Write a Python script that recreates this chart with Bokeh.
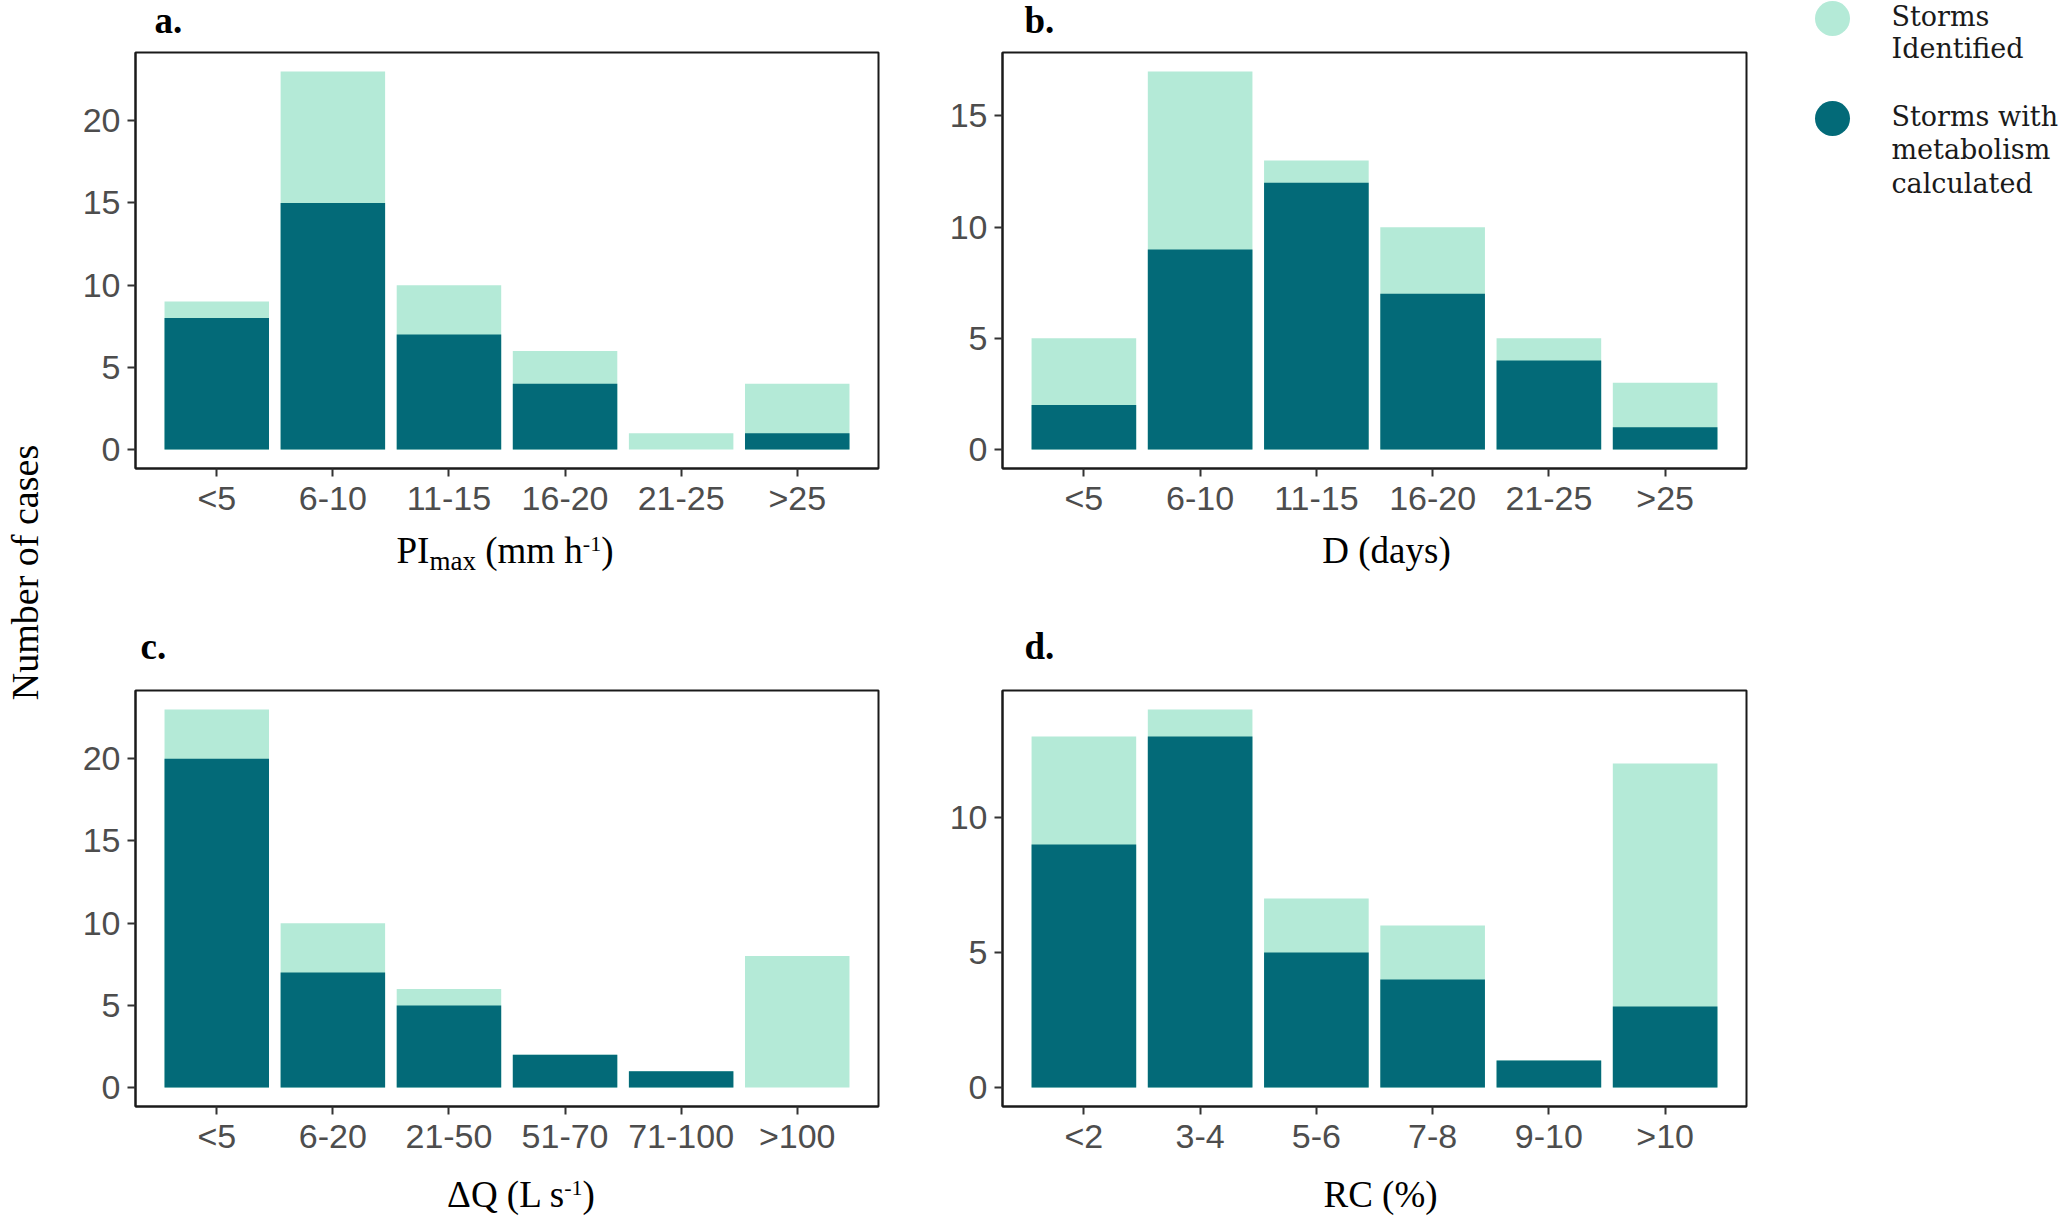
import math
from bokeh.plotting import figure
from bokeh.layouts import row, column
from bokeh.models import ColumnDataSource, FactorRange, Range1d, FixedTicker, Label
from bokeh.core.properties import value
from bokeh.embed import file_html
from bokeh.resources import INLINE

# ---------------- data ----------------
CATS_A = ["<5", "6-10", "11-15", "16-20", "21-25", ">25"]
IDENT_A = [9, 23, 10, 6, 1, 4]
METAB_A = [8, 15, 7, 4, 0, 1]

CATS_B = ["<5", "6-10", "11-15", "16-20", "21-25", ">25"]
IDENT_B = [5, 17, 13, 10, 5, 3]
METAB_B = [2, 9, 12, 7, 4, 1]

CATS_C = ["<5", "6-20", "21-50", "51-70", "71-100", ">100"]
IDENT_C = [23, 10, 6, 2, 1, 8]
METAB_C = [20, 7, 5, 2, 1, 0]

CATS_D = ["<2", "3-4", "5-6", "7-8", "9-10", ">10"]
IDENT_D = [13, 14, 7, 6, 1, 12]
METAB_D = [9, 13, 5, 4, 1, 3]

YTICKS_A = [0, 5, 10, 15, 20]
YTICKS_B = [0, 5, 10, 15]
YTICKS_C = [0, 5, 10, 15, 20]
YTICKS_D = [0, 5, 10]

PANEL_LABELS = ["a.", "b.", "c.", "d."]
# axis titles as (text, kind) pieces: n = normal, sub = subscript, sup = superscript
XTITLE_A = [("PI", "n"), ("max", "sub"), (" (mm h", "n"), ("-1", "sup"), (")", "n")]
XTITLE_B = [("D (days)", "n")]
XTITLE_C = [("\u0394Q (L s", "n"), ("-1", "sup"), (")", "n")]
XTITLE_D = [("RC (%)", "n")]
YTITLE = "Number of cases"
LEGEND_LABELS = [["Storms", "Identified"], ["Storms with", "metabolism", "calculated"]]

LIGHT = "#B4EAD7"
DARK = "#036A78"

# Times / Liberation Serif advance widths (em)
TW = {"P": .556, "I": .333, "m": .778, "a": .444, "x": .5, " ": .25, "(": .333, ")": .333,
      "h": .5, "-": .333, "1": .5, "\u0394": .612, "Q": .722, "L": .611, "s": .389,
      "D": .722, "d": .5, "y": .5, "R": .667, "C": .667, "%": .833}

TITLE_SIZE = 37
SIZES = {"n": TITLE_SIZE, "sub": 27, "sup": 22}
SHIFT = {"n": 0, "sub": -7, "sup": 12}
BASE_FIX = 0.36   # renderer places the alphabetic baseline ~0.36em low; compensate
LETTER_SIZE = 37


def text_w(s, size):
    return sum(TW.get(c, 0.5) for c in s) * size


def strip(width, height):
    f = figure(width=width, height=height, output_backend="svg", toolbar_location=None,
               x_axis_location=None, y_axis_location=None, min_border=0,
               x_range=Range1d(0, 1), y_range=Range1d(0, 1), outline_line_color=None,
               background_fill_color="white", border_fill_color="white")
    f.grid.visible = False
    return f


def add_letter(f, x, y, text):
    f.add_layout(Label(x=x, y=y + BASE_FIX * LETTER_SIZE, x_units="screen", y_units="screen",
                       text=text, text_font="Liberation Serif", text_font_style="bold",
                       text_font_size=f"{LETTER_SIZE}px", text_color="black",
                       text_baseline="alphabetic"))


def add_xtitle(f, cx, y, pieces):
    total = sum(text_w(t, SIZES[k]) for t, k in pieces)
    x0 = cx - total / 2
    for t, k in pieces:
        sz = SIZES[k]
        lead = len(t) - len(t.lstrip(" "))
        x0 += text_w(" " * lead, sz)
        t2 = t.lstrip(" ")
        f.add_layout(Label(x=x0, y=y + SHIFT[k] + BASE_FIX * sz, x_units="screen", y_units="screen",
                           text=t2, text_font="Liberation Serif", text_font_size=f"{sz}px",
                           text_color="black", text_baseline="alphabetic", text_align="left"))
        x0 += text_w(t2, sz)


def make_panel(cats, ident, metab, yticks, width, height, bl, br, bt, bb):
    ymax = max(ident)
    p = figure(width=width, height=height, output_backend="svg", toolbar_location=None,
               x_range=FactorRange(factors=cats, range_padding=0.2, range_padding_units="absolute"),
               y_range=Range1d(-0.05 * ymax, 1.05 * ymax),
               min_border_left=bl, min_border_right=br, min_border_top=bt, min_border_bottom=bb,
               background_fill_color="white", border_fill_color="white")
    src = ColumnDataSource(dict(cat=cats, ident=ident, metab=metab))
    p.vbar(x="cat", top="ident", width=0.9, source=src, fill_color=LIGHT, line_color=None)
    p.vbar(x="cat", top="metab", width=0.9, source=src, fill_color=DARK, line_color=None)

    p.xgrid.visible = False
    p.ygrid.visible = False
    p.outline_line_color = "#1a1a1a"
    p.outline_line_width = 2
    p.yaxis.ticker = FixedTicker(ticks=yticks)
    for ax in (p.xaxis[0], p.yaxis[0]):
        ax.axis_line_color = "#1a1a1a"
        ax.axis_line_width = 2
        ax.major_tick_line_color = "#333333"
        ax.major_tick_line_width = 2
        ax.major_tick_out = 8
        ax.major_tick_in = 0
        ax.minor_tick_line_color = None
        ax.major_label_text_font = "Liberation Sans"
        ax.major_label_text_font_size = "34px"
        ax.major_label_text_color = "#4D4D4D"
    p.yaxis.major_label_standoff = 7
    p.xaxis.major_label_standoff = 2
    return p


# geometry (page pixels): left column x 58..921, right column 921..1786
W1, BL1, BR1 = 863, 77, 43
W2, BL2, BR2 = 865, 81, 40
FW1 = W1 - BL1 - BR1
FW2 = W2 - BL2 - BR2
H_HEAD, H_TOP, H_MID, H_BOT, H_CAP = 44, 481, 157, 478, 59

fa = make_panel(CATS_A, IDENT_A, METAB_A, YTICKS_A, W1, H_TOP, BL1, BR1, 8, 57)
fb = make_panel(CATS_B, IDENT_B, METAB_B, YTICKS_B, W2, H_TOP, BL2, BR2, 8, 57)
fc = make_panel(CATS_C, IDENT_C, METAB_C, YTICKS_C, W1, H_BOT, BL1, BR1, 8, 54)
fd = make_panel(CATS_D, IDENT_D, METAB_D, YTICKS_D, W2, H_BOT, BL2, BR2, 8, 54)

# strips share the panel frames horizontally (column aligns frame edges),
# so x positions below are relative to the panel frame's left edge
head1 = strip(W1, H_HEAD)
add_letter(head1, 19, 11, PANEL_LABELS[0])
mid1 = strip(W1, H_MID)
add_xtitle(mid1, FW1 / 2 - 2, 119, XTITLE_A)
add_letter(mid1, 5, 23, PANEL_LABELS[2])
cap1 = strip(W1, H_CAP)
add_xtitle(cap1, FW1 / 2 + 14, 12, XTITLE_C)

head2 = strip(W2, H_HEAD)
add_letter(head2, 22, 11, PANEL_LABELS[1])
mid2 = strip(W2, H_MID)
add_xtitle(mid2, FW2 / 2 + 12, 119, XTITLE_B)
add_letter(mid2, 22, 23, PANEL_LABELS[3])
cap2 = strip(W2, H_CAP)
add_xtitle(cap2, FW2 / 2 + 6, 12, XTITLE_D)

# y title strip
fy = strip(58, 1219)
fy.add_layout(Label(x=24, y=647, x_units="screen", y_units="screen", text=YTITLE,
                    angle=math.pi / 2, text_font="Liberation Serif", text_font_size="38px",
                    text_color="black", text_align="center", text_baseline="alphabetic"))

# legend strip (pixel coordinates, y downward)
LW, LH = 281, 220
fl = figure(width=LW, height=LH, output_backend="svg", toolbar_location=None,
            x_axis_location=None, y_axis_location=None, min_border=0,
            x_range=Range1d(0, LW), y_range=Range1d(LH, 0), outline_line_color=None)
fl.grid.visible = False
fl.scatter(x=[46, 46], y=[18, 118], size=35, marker="circle",
           fill_color=[LIGHT, DARK], line_color=None)
lines, xs, ys = [], [], []
baselines = [[16, 48], [116, 149, 183]]
for labs, bls in zip(LEGEND_LABELS, baselines):
    for t, b in zip(labs, bls):
        lines.append(t)
        xs.append(105)
        ys.append(b)
fl.text(x=xs, y=ys, text=lines, text_font=value("DejaVu Serif"), text_font_size=value("27px"),
        text_color="#1a1a1a", text_baseline="alphabetic", text_align="left")

layout = row(fy,
             column(head1, fa, mid1, fc, cap1),
             column(head2, fb, mid2, fd, cap2),
             fl)
open("out.html", "w").write(file_html(layout, INLINE))
